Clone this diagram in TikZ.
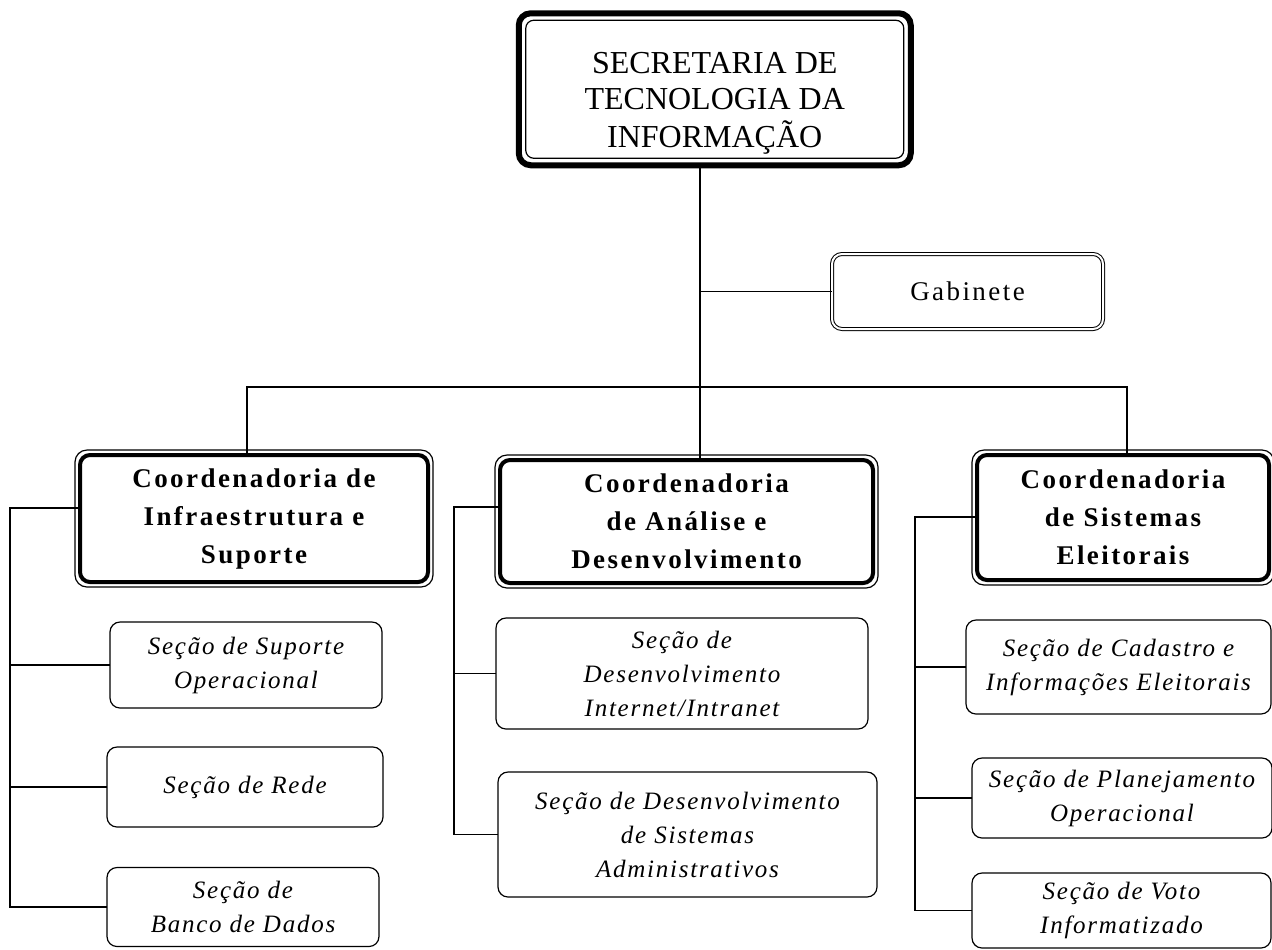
\documentclass[tikz,border=0pt]{standalone}
\usepackage{fontspec}
\setmainfont{Liberation Serif}
\newfontfamily\spfont[LetterSpace=9]{Liberation Serif}
\newfontfamily\secfont[LetterSpace=7]{Liberation Serif}
\tikzset{
    topbox/.style={draw, line width=3pt, rounded corners=6pt, inner sep=0pt, outer sep=0pt, text height=36pt, text depth=13.7pt, font=\fontsize{16}{18.3}\selectfont},
    gabbox/.style={draw, double, line width=0.5pt, double distance=1pt, rounded corners=5pt, align=center, inner sep=0pt, outer sep=0pt, font=\spfont\fontsize{13.5}{19}\selectfont},
    coordbox/.style={draw, line width=2pt, rounded corners=5pt, align=center, inner sep=0pt, outer sep=0pt, font=\spfont\bfseries\fontsize{13.5}{19}\selectfont},
    secbox/.style={draw, line width=0.6pt, rounded corners=5pt, align=center, inner sep=0pt, outer sep=0pt, font=\secfont\itshape\fontsize{12.5}{17}\selectfont},
    link/.style={line width=0.6pt}
}
\begin{document}
\begin{tikzpicture}[x=0.5pt,y=-0.5pt]
        %fix the page size
        \useasboundingbox (0,0) rectangle (1272,949);

        %top of the chart
        \node[topbox, minimum width=196pt, minimum height=76pt] (sec) at (714.75,89.25) {\begin{tabular}{@{}c@{}}SECRETARIA DE\\TECNOLOGIA DA\\INFORMAÇÃO\end{tabular}};
        \node[gabbox, minimum width=135.5pt, minimum height=37.5pt] (gab) at (967.5,291.5) {Gabinete};

        %the three coordinations
        \node[coordbox, minimum width=174pt, minimum height=63.5pt] (cInfra) at (254,518.5) {Coordenadoria de\\Infraestrutura e\\Suporte};
        \node[coordbox, minimum width=186.5pt, minimum height=61.5pt] (cAnalise) at (686.5,521.5) {Coordenadoria\\de Análise e\\Desenvolvimento};
        \node[coordbox, minimum width=146pt, minimum height=62.5pt] (cSist) at (1123,517.5) {Coordenadoria\\de Sistemas\\Eleitorais};

        %sections
        \node[secbox, minimum width=136pt, minimum height=43pt] (sSuporte) at (246,665) {Seção de Suporte\\Operacional};
        \node[secbox, minimum width=138pt, minimum height=40pt] (sRede) at (245,787) {Seção de Rede};
        \node[secbox, minimum width=136pt, minimum height=39.5pt] (sBanco) at (243,907) {Seção de\\Banco de Dados};
        \node[secbox, minimum width=186pt, minimum height=55.5pt] (sInternet) at (682,673.5) {Seção de\\Desenvolvimento\\Internet/Intranet};
        \node[secbox, minimum width=189.5pt, minimum height=62.5pt] (sAdmin) at (687.5,834.5) {Seção de Desenvolvimento\\de Sistemas\\Administrativos};
        \node[secbox, minimum width=152.5pt, minimum height=47pt] (sCadastro) at (1118.5,667) {Seção de Cadastro e\\Informações Eleitorais};
        \node[secbox, minimum width=150pt, minimum height=40pt] (sPlanej) at (1122,798) {Seção de Planejamento\\Operacional};
        \node[secbox, minimum width=149.5pt, minimum height=37.5pt] (sVoto) at (1121.5,910.5) {Seção de Voto\\Informatizado};

        %second frames
        \draw[rounded corners=4pt, line width=0.6pt] ([xshift=3.5pt,yshift=-3.5pt]sec.north west) rectangle ([xshift=-3.5pt,yshift=3.5pt]sec.south east);
        \foreach \n in {cInfra,cAnalise,cSist}
            \draw[rounded corners=6pt, line width=0.6pt] ([xshift=-2.5pt,yshift=2.5pt]\n.north west) rectangle ([xshift=2.5pt,yshift=-2.5pt]\n.south east);

        %main lines
        \coordinate (trunk) at (700,387);
        \coordinate (barL) at (247,387);
        \coordinate (barR) at (1127,387);
        \draw[link] (sec.south -| trunk) -- (trunk) -- (trunk |- cAnalise.north);
        \draw[link] (gab.west) -- (gab.west -| trunk);
        \draw[link] (barL |- cInfra.north) -- (barL) -- (barR) -- (barR |- cSist.north);

        %side lines to the sections
        \coordinate (spA) at (10,508);
        \coordinate (spB) at (454,507);
        \coordinate (spC) at (915,517);
        \draw[link] (cInfra.west |- spA) -- (spA) -- (spA |- sBanco.west) -- (sBanco.west);
        \draw[link] (sSuporte.west) -- (sSuporte.west -| spA);
        \draw[link] (sRede.west) -- (sRede.west -| spA);
        \draw[link] (cAnalise.west |- spB) -- (spB) -- (spB |- sAdmin.west) -- (sAdmin.west);
        \draw[link] (sInternet.west) -- (sInternet.west -| spB);
        \draw[link] (cSist.west |- spC) -- (spC) -- (spC |- sVoto.west) -- (sVoto.west);
        \draw[link] (sCadastro.west) -- (sCadastro.west -| spC);
        \draw[link] (sPlanej.west) -- (sPlanej.west -| spC);
\end{tikzpicture}
\end{document}
